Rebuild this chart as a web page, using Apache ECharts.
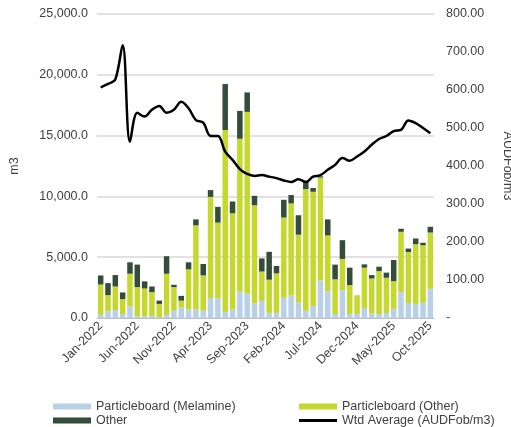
<!DOCTYPE html>
<html>
<head>
<meta charset="utf-8">
<script src="https://cdn.jsdelivr.net/npm/echarts@6/dist/echarts.min.js"></script>
<style>html,body{margin:0;padding:0;background:#fff;}#c{width:511px;height:427px;}</style>
</head>
<body>
<div id="c"></div>
<script>
const months = ['Jan','Feb','Mar','Apr','May','Jun','Jul','Aug','Sep','Oct','Nov','Dec'];
const categories = [];
for (let y = 2022; y <= 2025; y++) for (let m = 0; m < 12; m++) {
  if (y === 2025 && m > 9) break;
  categories.push(months[m] + '-' + y);
}
const melamine = [250,550,660,330,940,150,150,170,50,250,600,880,
  720,720,600,1630,1630,500,720,2180,1990,1210,1410,420,
  420,1660,1850,1290,600,990,3100,2200,330,2290,330,330,
  830,380,330,410,750,2120,1240,1160,1240,2400];
const pbOther = [2500,1330,1930,1220,2700,2390,2280,1960,1110,3390,1940,550,
  3280,6900,2900,8330,6210,14960,7890,12560,14960,8060,2410,2730,
  3250,6600,7570,5560,10000,9390,8450,4590,2850,2570,2370,1540,
  3310,2870,3530,2900,2280,4970,4190,4910,4740,4630];
const other = [750,990,940,550,940,1850,580,460,270,1440,190,390,
  580,490,940,560,1300,3780,970,2290,1600,780,1080,2290,
  610,1460,690,1600,600,310,100,1320,1210,1540,1440,0,
  270,280,360,420,1740,250,280,470,210,470];
const wtdAvg = [607,616,628,718,464,540,530,548,558,540,548,569,
  552,521,514,479,479,438,416,392,379,374,376,372,
  368,362,358,365,358,372,376,390,403,421,414,425,
  438,456,471,479,492,495,520,513,500,486];

const fmt1 = v => Number(v).toLocaleString('en-US',{minimumFractionDigits:1,maximumFractionDigits:1});
const fmt2 = v => v === 0 ? '-' : Number(v).toFixed(2);
const txt = '#404040';
const font = 'Liberation Sans, Arial, sans-serif';
const fs = 12.5;

function leg(name, left, top, h) {
  return {left:left, top:top, orient:'horizontal', itemWidth:38, itemHeight:h, itemGap:0,
    textStyle:{color:txt,fontSize:fs,fontFamily:font},
    data:[{name:name, icon:'rect'}]};
}

const chart = echarts.init(document.getElementById('c'), null, {renderer:'canvas'});
chart.setOption({
  animation:false,
  textStyle:{fontFamily:font},
  grid:{left:97,right:77,top:14,bottom:109,containLabel:false,outerBoundsMode:'none'},
  legend:[
    leg('Particleboard (Melamine)',48,395,6),
    leg('Other',48,409,6),
    leg('Particleboard (Other)',294,395,6),
    leg('Wtd Average (AUDFob/m3)',294,409,3)
  ],
  xAxis:{type:'category',data:categories,boundaryGap:true,
    axisLine:{lineStyle:{color:'#bfbfbf',width:1}},
    axisTick:{interval:4,length:4,lineStyle:{color:'#bfbfbf'}},
    axisLabel:{interval:4,rotate:45,color:txt,fontSize:fs,margin:6,fontFamily:font}},
  yAxis:[
    {type:'value',min:0,max:25000,interval:5000,name:'m3',nameLocation:'middle',nameGap:76,nameRotate:90,
     nameTextStyle:{color:txt,fontSize:fs,fontFamily:font},
     axisLine:{show:false},axisTick:{show:false},
     axisLabel:{formatter:fmt1,color:txt,fontSize:fs,margin:9,fontFamily:font},
     splitLine:{lineStyle:{color:'#d9d9d9',width:1.5}}},
    {type:'value',min:0,max:800,interval:100,position:'right',name:'AUDFob/m3',nameLocation:'middle',nameGap:67,nameRotate:-90,
     nameTextStyle:{color:txt,fontSize:fs,fontFamily:font},
     axisLine:{show:false},axisTick:{show:false},
     axisLabel:{formatter:fmt2,color:txt,fontSize:fs,margin:12,fontFamily:font},
     splitLine:{show:false}}
  ],
  series:[
    {name:'Particleboard (Melamine)',type:'bar',stack:'s',data:melamine,barCategoryGap:'25%',
     itemStyle:{color:'#b8d0e8'}},
    {name:'Particleboard (Other)',type:'bar',stack:'s',data:pbOther,
     itemStyle:{color:'#c4d82e'}},
    {name:'Other',type:'bar',stack:'s',data:other,
     itemStyle:{color:'#344c3a'}},
    {name:'Wtd Average (AUDFob/m3)',type:'line',yAxisIndex:1,data:wtdAvg,smooth:0.35,symbol:'none',
     lineStyle:{color:'#000',width:2.5},itemStyle:{color:'#000'},z:5}
  ]
});
</script>
</body>
</html>
